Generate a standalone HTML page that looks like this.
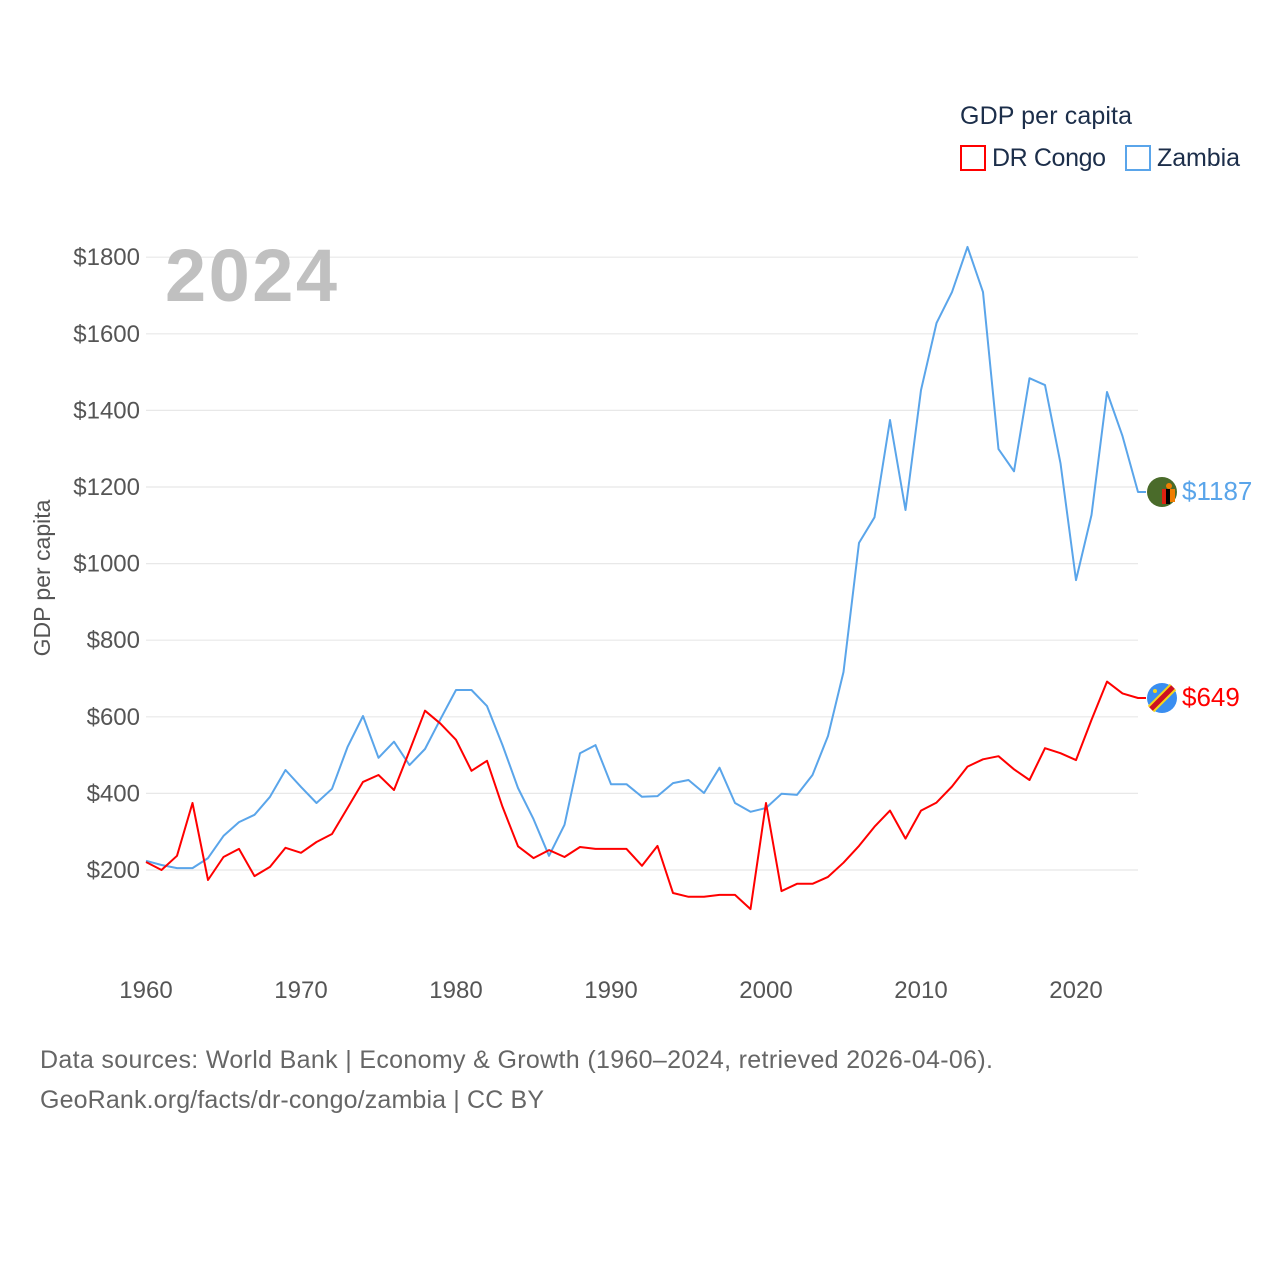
<!DOCTYPE html>
<html><head><meta charset="utf-8"><style>
body{margin:0;background:#fff;width:1280px;height:1280px;overflow:hidden;font-family:"Liberation Sans",sans-serif}
</style></head><body>
<svg id="chart" width="1280" height="1280" xmlns="http://www.w3.org/2000/svg" font-family="Liberation Sans, sans-serif">
<text x="960" y="124" font-size="25" fill="#1c2e4a" textLength="172">GDP per capita</text>
<rect x="961" y="146" width="24" height="24" fill="none" stroke="#ff0000" stroke-width="2"/>
<text x="992" y="166" font-size="25" fill="#1c2e4a" textLength="114">DR Congo</text>
<rect x="1126" y="146" width="24" height="24" fill="none" stroke="#5aa5ea" stroke-width="2"/>
<text x="1157" y="166" font-size="25" fill="#1c2e4a" textLength="83">Zambia</text>
<text transform="translate(50,578) rotate(-90)" text-anchor="middle" font-size="23" fill="#555">GDP per capita</text>
<g id="grid"></g><g id="ticks"></g>
<text x="165" y="301" font-size="74" font-weight="bold" fill="#c0c0c0" textLength="172">2024</text>
<g id="series"></g>
<text x="40" y="1068" font-size="25" fill="#666" textLength="953">Data sources: World Bank | Economy &amp; Growth (1960–2024, retrieved 2026-04-06).</text>
<text x="40" y="1108" font-size="25" fill="#666" textLength="504">GeoRank.org/facts/dr-congo/zambia | CC BY</text>
</svg>
<script>
const years = [];
for (let y = 1960; y <= 2024; y++) years.push(y);
const yTicks = [200,400,600,800,1000,1200,1400,1600,1800];
const xTicks = [1960,1970,1980,1990,2000,2010,2020];
const zambia = [224,213,205,205,231,289,325,344,391,461,417,375,412,521,602,493,535,474,516,594,670,670,628,526,414,333,237,318,505,526,424,424,391,393,427,435,401,467,375,352,362,399,396,448,550,717,1054,1121,1375,1140,1453,1628,1709,1827,1709,1299,1241,1484,1466,1262,957,1127,1448,1333,1187];
const drc = [221,200,237,375,174,234,255,184,208,258,245,273,294,362,430,448,409,511,616,582,540,459,485,365,262,231,252,234,260,255,255,255,211,263,140,130,130,135,135,98,375,145,164,164,182,219,263,313,355,282,355,376,418,470,489,497,463,435,518,505,487,592,692,661,649];
const NS = "http://www.w3.org/2000/svg";
const X = yr => 146 + (yr - 1960) * 15.5;
const Y = v => 946.6 - v * 0.383;
function mk(tag, attrs, parent){const e=document.createElementNS(NS,tag);for(const k in attrs)e.setAttribute(k,attrs[k]);parent.appendChild(e);return e;}
const grid=document.getElementById('grid'), ticks=document.getElementById('ticks'), series=document.getElementById('series');
yTicks.forEach(v=>{
  const l=mk('line',{x1:146,x2:1138,y1:Y(v),y2:Y(v),stroke:'#e8e8e8','stroke-width':1.2},grid);
  
  
  const t=mk('text',{x:140,y:Y(v)+8,'text-anchor':'end','font-size':24,fill:'#555'},ticks);
  t.textContent='$'+v;
  
  
});
xTicks.forEach(yr=>{
  const t=mk('text',{x:X(yr),y:998,'text-anchor':'middle','font-size':24,fill:'#555'},ticks);
  t.textContent=yr;
  
  
});
function drawSeries(vals,color,name,flag){
  let d=vals.map((v,i)=>(i?'L':'M')+X(years[i]).toFixed(1)+' '+Y(v).toFixed(1)).join(' ');
  const last=vals[vals.length-1];
  d+=' L1146 '+Y(last).toFixed(1);
  const p=mk('path',{d:d,fill:'none',stroke:color,'stroke-width':2,'stroke-linejoin':'round'},series);
  
  
  const g=mk('g',{},series);
  
  
  flag(g,1162,Y(last));
  const t=mk('text',{x:1182,y:Y(last)+8,'font-size':26,fill:color},series);
  t.textContent='$'+last;
  
  
}
drawSeries(zambia,'#5aa5ea','zambia',(g,cx,cy)=>{
  mk('circle',{cx:cx,cy:cy,r:15,fill:'#4a6b2a'},g);
  mk('rect',{x:cx+0,y:cy-3,width:4,height:15,fill:'#de2010'},g);
  mk('rect',{x:cx+4,y:cy-3,width:4,height:15,fill:'#000'},g);
  mk('rect',{x:cx+8,y:cy-3,width:5,height:13,fill:'#ef7d00'},g);
  mk('circle',{cx:cx+7,cy:cy-6,r:3,fill:'#ef7d00'},g);
});
drawSeries(drc,'#ff0000','drc',(g,cx,cy)=>{
  mk('circle',{cx:cx,cy:cy,r:15,fill:'#3a8ef0'},g);
  mk('line',{x1:cx-11,y1:cy+11,x2:cx+11,y2:cy-11,stroke:'#f7d618','stroke-width':9},g);
  mk('line',{x1:cx-11,y1:cy+11,x2:cx+11,y2:cy-11,stroke:'#ce1021','stroke-width':5},g);
  mk('circle',{cx:cx-7,cy:cy-7,r:2,fill:'#f7d618'},g);
});
</script>
</body></html>
